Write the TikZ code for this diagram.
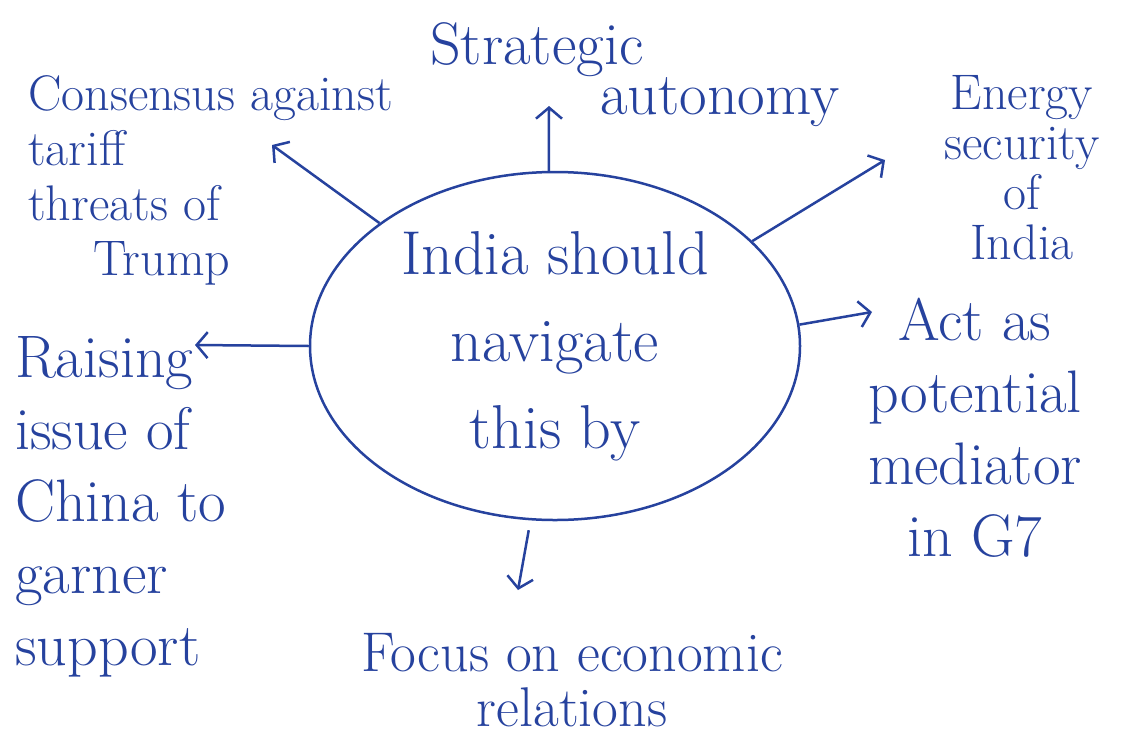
\documentclass[tikz,border=0pt]{standalone}
\usepackage{tikz}
\usetikzlibrary{shapes.geometric,arrows.meta}
\definecolor{ink}{RGB}{38,66,158}

\begin{document}
\begin{tikzpicture}
      [
      x=1pt,y=-1pt,
      hubbox/.style={ellipse,draw=ink,line width=2.5pt,text=ink,inner sep=0pt,minimum width=490pt,minimum height=348pt,align=center,font=\fontsize{62}{87}\selectfont},
      idea/.style 2 args={text=ink,inner sep=0pt,font=\fontsize{#1}{#2}\selectfont},
      link/.style={draw=ink,line width=2.5pt,-{Straight Barb[length=11pt,width=26pt]}}
      ]
      \fill [white] (0,0) rectangle (1139,742);
      \useasboundingbox (0,0) rectangle (1139,742);
      \node (hub) at (555,346) [hubbox] {India should\\navigate\\this by};
      \node (consensus) at (28,180) [idea={50}{55},anchor=west,align=left] {Consensus against\\tariff\\threats of\\\hspace*{65pt}Trump};
      \node (strategic) at (430,75) [idea={60}{50},anchor=west,align=left] {Strategic\\\hspace*{170pt}autonomy};
      \node (energy) at (1022,168) [idea={50}{50},align=center] {Energy\\security\\of\\India};
      \node (mediator) at (975,428) [idea={60}{72},align=center] {Act as\\potential\\mediator\\in G7};
      \node (raising) at (15,507) [idea={60}{72},anchor=west,align=left] {Raising\\issue of\\China to\\garner\\support};
      \node (focus) at (572,680) [idea={56}{55},align=center] {Focus on economic\\relations};
      \coordinate (tipN) at (549,106);
      \coordinate (tipNW) at (272,145);
      \coordinate (tipNE) at (885,160);
      \coordinate (tipE) at (872,312);
      \coordinate (tipW) at (195,345);
      \coordinate (tipS) at (518,590);
      \draw [link] (hub.92) to (tipN);
      \draw [link] (hub.145) to (tipNW);
      \draw [link] (hub.28) to (tipNE);
      \draw [link] (hub.5) to (tipE);
      \draw [link] (hub.west) to (tipW);
      \draw [link,shorten <=10pt] (hub.262) to (tipS);
    \end{tikzpicture}
\end{document}
